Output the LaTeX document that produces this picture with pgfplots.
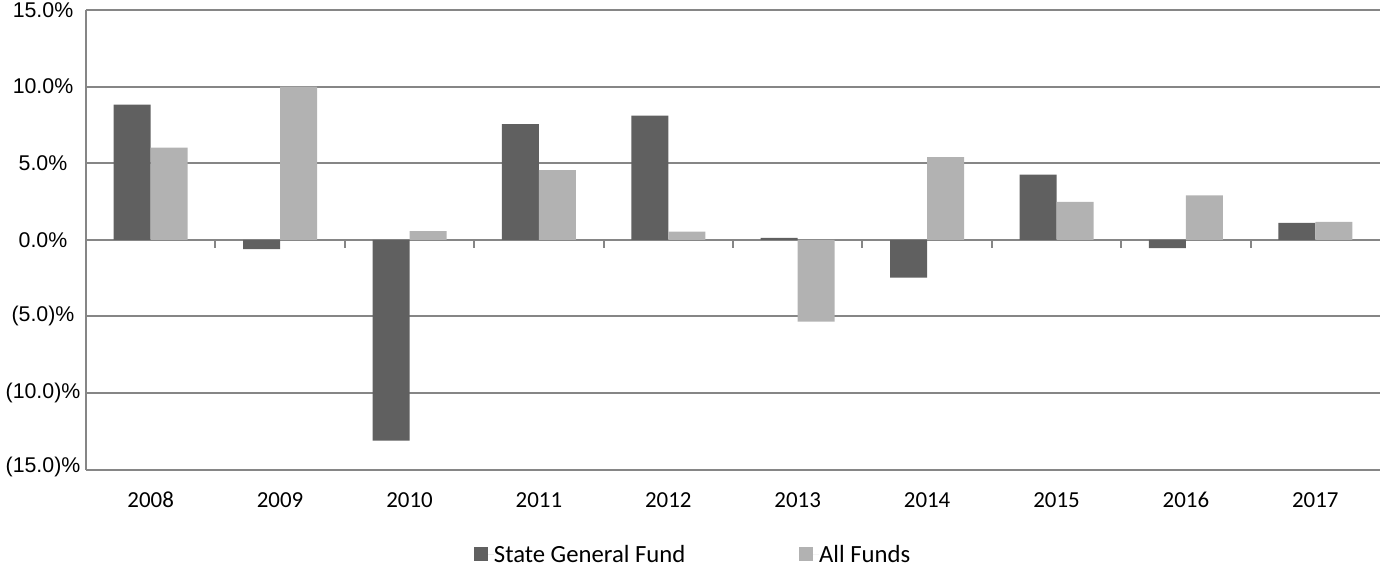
\documentclass[border=0pt]{standalone}
\usepackage{fontspec}
\setmainfont{Carlito}
\newfontfamily\arialfont{Liberation Sans}
\usepackage{pgfplots}
\pgfplotsset{compat=1.18}
\definecolor{darkbar}{HTML}{606060}
\definecolor{lightbar}{HTML}{B2B2B2}
\definecolor{gridc}{HTML}{868686}
\begin{document}
\fontsize{12}{14.4}\selectfont
\begin{tikzpicture}
\begin{axis}[
  at={(43bp,48.75bp)}, anchor=south west,
  scale only axis, width=647bp, height=229.75bp,
  ybar=0pt, bar width=18.5bp,
  xmin=-0.5, xmax=9.5, ymin=-15, ymax=15,
  xtick={0,1,2,3,4,5,6,7,8,9},
  xticklabels={2008,2009,2010,2011,2012,2013,2014,2015,2016,2017},
  ytick={-15,-10,-5,0,5,10,15},
  yticklabels={\raisebox{4.75bp}{(15.0)\%},(10.0)\%,(5.0)\%,0.0\%,5.0\%,10.0\%,15.0\%},
  axis x line*=bottom, axis y line*=left,
  axis line style={gridc, line width=1bp, -},
  ymajorgrids, grid style={gridc, line width=1bp},
  major tick length=0pt,
  xticklabel style={font=\fontsize{11.5}{13.8}\selectfont, anchor=base, yshift=-19bp},
  yticklabel style={font=\arialfont\fontsize{10.7}{12.6}\selectfont, anchor=center, xshift=-21.5bp},
  legend style={at={(0.4685,-0.184)}, anchor=center, draw=none, fill=none,
    legend columns=2, font=\fontsize{12.4}{14.9}\selectfont,
    /tikz/every even column/.append style={column sep=57bp},
    nodes={inner sep=0pt, text depth=0pt}},
  legend cell align=left,
]
\addplot[fill=darkbar, draw=none,
  legend image code/.code={\fill[darkbar] (0bp,-3.5bp) rectangle (7bp,3.5bp);\path (0bp,0) -- (9.85bp,0);}]
  coordinates {(0,8.82) (1,-0.62) (2,-13.12) (3,7.55) (4,8.10) (5,0.12) (6,-2.47) (7,4.25) (8,-0.55) (9,1.10)};
\addlegendentry{State General Fund}
\addplot[fill=lightbar, draw=none,
  legend image code/.code={\fill[lightbar] (0bp,-3.5bp) rectangle (7bp,3.5bp);\path (0bp,0) -- (9.85bp,0);}]
  coordinates {(0,6.01) (1,10.0) (2,0.57) (3,4.55) (4,0.53) (5,-5.34) (6,5.40) (7,2.47) (8,2.90) (9,1.16)};
\addlegendentry{All Funds}
\draw[gridc, line width=1bp] (axis cs:0.5,0) -- ++(0pt,-4bp);
\draw[gridc, line width=1bp] (axis cs:1.5,0) -- ++(0pt,-4bp);
\draw[gridc, line width=1bp] (axis cs:2.5,0) -- ++(0pt,-4bp);
\draw[gridc, line width=1bp] (axis cs:3.5,0) -- ++(0pt,-4bp);
\draw[gridc, line width=1bp] (axis cs:4.5,0) -- ++(0pt,-4bp);
\draw[gridc, line width=1bp] (axis cs:5.5,0) -- ++(0pt,-4bp);
\draw[gridc, line width=1bp] (axis cs:6.5,0) -- ++(0pt,-4bp);
\draw[gridc, line width=1bp] (axis cs:7.5,0) -- ++(0pt,-4bp);
\draw[gridc, line width=1bp] (axis cs:8.5,0) -- ++(0pt,-4bp);
\end{axis}
\pgfresetboundingbox
\useasboundingbox (0,0) rectangle (690bp,283.5bp);
\end{tikzpicture}
\end{document}
